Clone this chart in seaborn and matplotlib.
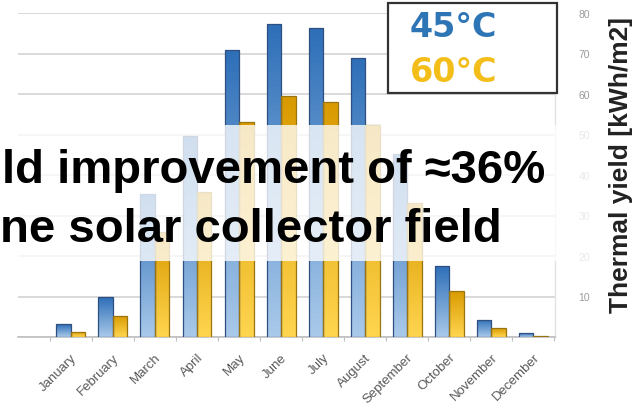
import numpy as np
import pandas as pd
import seaborn as sns
import matplotlib
matplotlib.use("Agg")
import matplotlib.pyplot as plt
from matplotlib.patches import Rectangle
from matplotlib.colors import LinearSegmentedColormap

sns.set_theme(style="white")
plt.rcParams['font.family'] = ['Liberation Sans', 'DejaVu Sans']

# monthly thermal yield (kWh/m2)
months = ['January', 'February', 'March', 'April', 'May', 'June', 'July',
          'August', 'September', 'October', 'November', 'December']
yield_45 = [3.2, 9.8, 35.3, 49.6, 70.9, 77.3, 76.2, 68.8, 45.2, 17.6, 4.3, 0.9]
yield_60 = [1.3, 5.3, 26.0, 35.9, 53.1, 59.5, 58.1, 52.4, 33.0, 11.4, 2.2, 0.3]
series = ['45°C', '60°C']
yticks = [0, 10, 20, 30, 40, 50, 60, 70, 80]

df = pd.DataFrame({
    'month': months * 2,
    'yield': yield_45 + yield_60,
    'temp': [series[0]] * 12 + [series[1]] * 12,
})

fig = plt.figure(figsize=(6.4, 4.1), dpi=100)
ax = fig.add_axes([18 / 640, 1 - 338 / 410, 537 / 640, 324 / 410])

sns.barplot(data=df, x='month', y='yield', hue='temp', order=months,
            palette=['#3f7fc4', '#f2b618'], width=0.69, gap=0,
            edgecolor='#2f4f80', linewidth=0.9, legend=False, ax=ax,
            zorder=3)

# excel-like vertical gradient on each bar
grads = [LinearSegmentedColormap.from_list('b', ['#a9c9ea', '#2e6fb8']),
         LinearSegmentedColormap.from_list('o', ['#ffd54f', '#d99a00'])]
edges = ['#2f4f80', '#9a7410']
g = np.linspace(0, 1, 64).reshape(-1, 1)
for cont, cmap, ec in zip(ax.containers, grads, edges):
    for p in cont.patches:
        x0, y0 = p.get_x(), p.get_y()
        w, h = p.get_width(), p.get_height()
        im = ax.imshow(g, extent=[x0, x0 + w, y0, y0 + h], origin='lower',
                       aspect='auto', cmap=cmap, zorder=2.9)
        im.set_clip_path(p)
        p.set_facecolor('none')
        p.set_edgecolor(ec)

ax.set_xlim(-1.26, 11.52)
ax.set_ylim(0, 80)
ax.set_yticks(yticks)
ax.set_yticklabels([''] + [str(t) for t in yticks[1:]])
ax.yaxis.tick_right()
ax.grid(axis='y', color='#d9d9d9', linewidth=1.4, zorder=0)
ax.set_axisbelow(True)
ax.tick_params(axis='y', length=0, pad=17, labelsize=7.5, labelcolor='#9a9a9a')

ax.set_xlabel('')
ax.set_ylabel('')
ax.set_xticks(range(12))
ax.set_xticklabels(months, rotation=45, ha='right', rotation_mode='anchor',
                   fontsize=9.5, color='#595959')
ax.tick_params(axis='x', length=0, pad=10)
ax.set_xticks(np.arange(-0.5, 12, 1), minor=True)
ax.tick_params(axis='x', which='minor', length=3, color='#bfbfbf', width=0.8,
               bottom=True)

for s in ['top', 'left']:
    ax.spines[s].set_visible(False)
ax.spines['bottom'].set_color('#bfbfbf')
ax.spines['bottom'].set_linewidth(1.2)
ax.spines['right'].set_color('#e3e3e3')
ax.spines['right'].set_linewidth(1.0)

fig.text(621 / 640, 1 - 165 / 410, 'Thermal yield [kWh/m2]', rotation=90,
         ha='center', va='center', fontsize=19, fontweight='bold', color='#222222')

# whitish band with the overlay message
fig.patches.append(Rectangle((0, 1 - 262 / 410), 600 / 640, 136 / 410,
                             transform=fig.transFigure, facecolor='white',
                             alpha=0.78, edgecolor='none', zorder=5))
fig.text(0.003, 1 - 183 / 410, 'ld improvement of \u224836%', fontsize=34,
         fontweight='bold', color='black', ha='left', va='baseline', zorder=6)
fig.text(0.0, 1 - 242 / 410, 'ne solar collector field', fontsize=34,
         fontweight='bold', color='black', ha='left', va='baseline', zorder=6)

# legend box
fig.patches.append(Rectangle((388 / 640, 1 - 94 / 410), 169 / 640, 90 / 410,
                             transform=fig.transFigure, facecolor='white',
                             edgecolor='#333333', linewidth=1.6, zorder=7))
fig.text(410 / 640, 1 - 37 / 410, series[0], fontsize=24, fontweight='bold',
         family='DejaVu Sans', color='#2e75b6', va='baseline', zorder=8)
fig.text(410 / 640, 1 - 82 / 410, series[1], fontsize=24, fontweight='bold',
         family='DejaVu Sans', color='#f4be1a', va='baseline', zorder=8)

fig.savefig('out.png', dpi=100)
